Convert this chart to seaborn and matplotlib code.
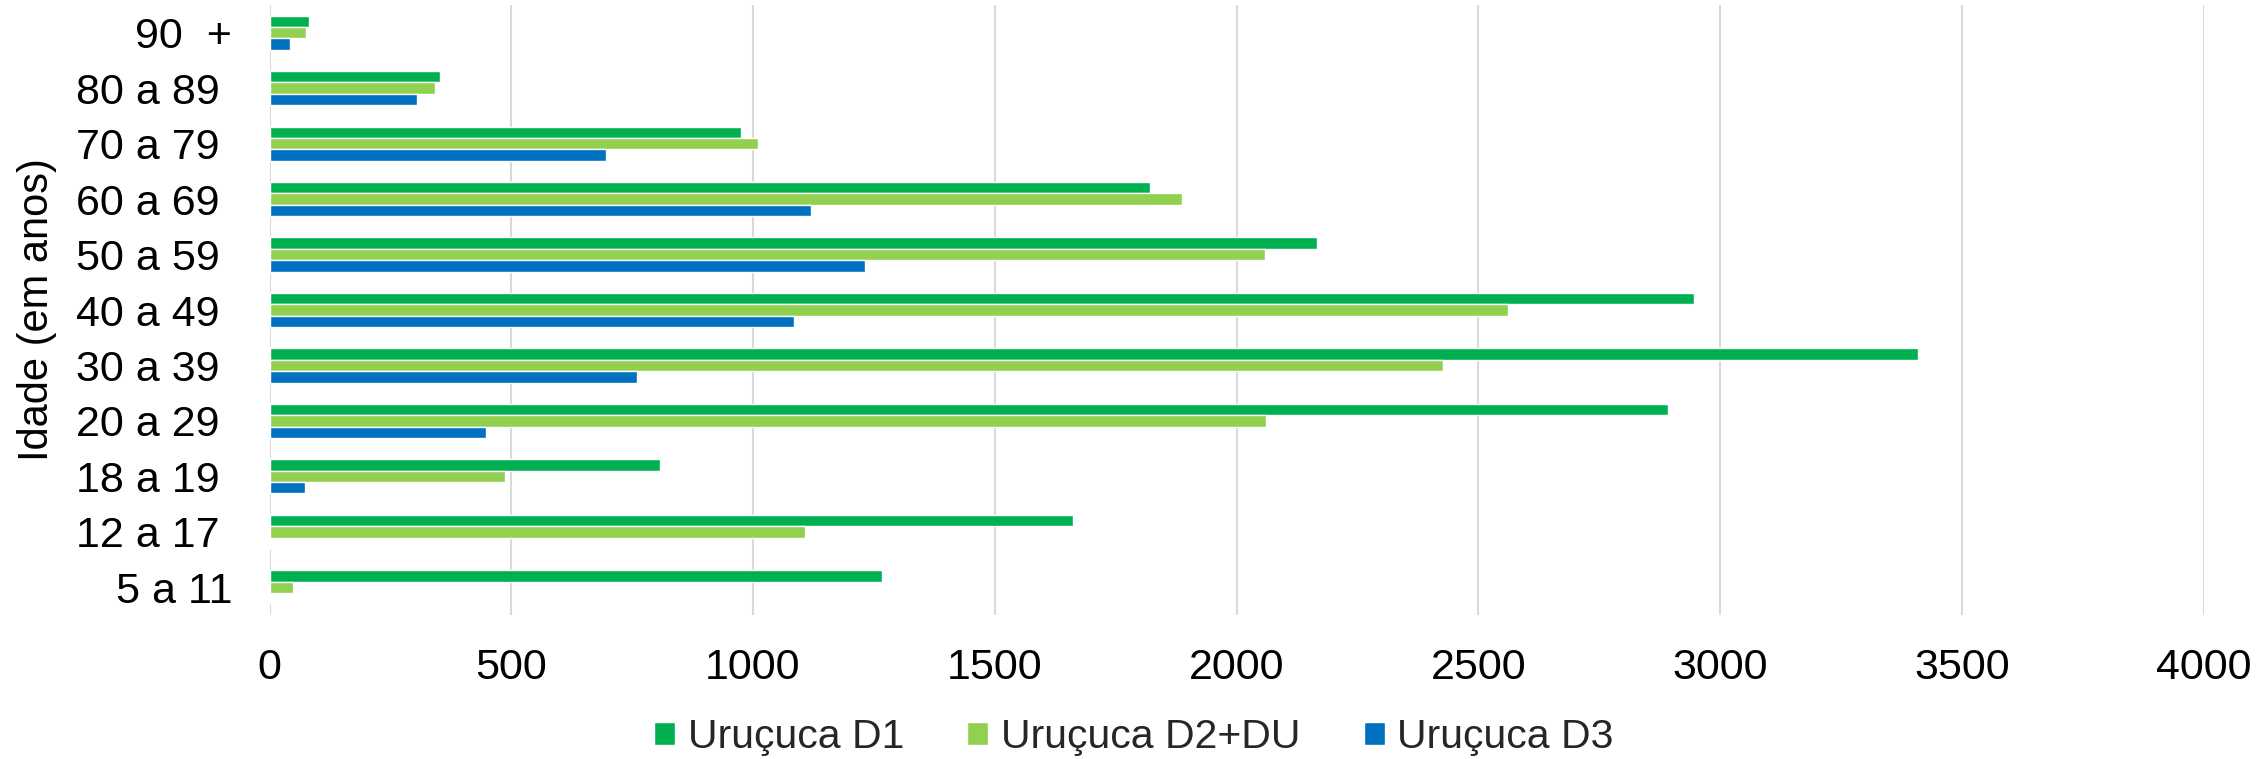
import matplotlib
matplotlib.use("Agg")
import matplotlib.pyplot as plt
import seaborn as sns
import pandas as pd

# Age groups, top to bottom
faixas = ["90  +", "80 a 89 ", "70 a 79 ", "60 a 69 ", "50 a 59 ", "40 a 49 ",
          "30 a 39 ", "20 a 29 ", "18 a 19 ", "12 a 17 ", "5 a 11"]

# Doses applied per age group
d1 = [82, 352, 975, 1821, 2166, 2946, 3410, 2893, 807, 1662, 1267]
d2_du = [75, 343, 1011, 1887, 2059, 2562, 2427, 2062, 488, 1108, 49]
d3 = [42, 306, 695, 1119, 1231, 1085, 760, 448, 74, 0, 0]

series = ["Uruçuca D1", "Uruçuca D2+DU", "Uruçuca D3"]
cores = ["#00B050", "#92D050", "#0070C0"]
x_ticks = [0, 500, 1000, 1500, 2000, 2500, 3000, 3500, 4000]

df = pd.DataFrame({
    "faixa": faixas * 3,
    "doses": d1 + d2_du + d3,
    "serie": [series[0]] * len(faixas) + [series[1]] * len(faixas) + [series[2]] * len(faixas),
})

sns.set_theme(style="white")
plt.rcParams["font.family"] = ["Liberation Sans", "DejaVu Sans"]

W, H = 2259, 759
fig = plt.figure(figsize=(W / 100, H / 100), dpi=100)
ax = fig.add_axes([269.5 / W, 1 - 615 / H, (2203.5 - 269.5) / W, 610 / H])

sns.barplot(data=df, x="doses", y="faixa", hue="serie", order=faixas,
            hue_order=series, palette=cores, orient="h", width=0.615,
            saturation=1, errorbar=None, ax=ax, zorder=3)

ax.set_xlim(0, 4000)
ax.set_ylim(len(faixas) - 0.5, -0.5)
ax.set_xticks(x_ticks)
ax.set_xticklabels([str(v) for v in x_ticks])
ax.grid(axis="x", color="#D9D9D9", linewidth=1.5, zorder=0)
ax.grid(axis="y", visible=False)
ax.set_axisbelow(True)
for s in ax.spines.values():
    s.set_visible(False)

ax.tick_params(axis="both", length=0, labelsize=31, labelcolor="black")
ax.tick_params(axis="y", pad=27)
ax.tick_params(axis="x", pad=24)
ax.set_xlabel("")
ax.set_ylabel("")

fig.text(37 / W, 1 - 310 / H, "Idade (em anos)", rotation=90, fontsize=30,
         ha="center", va="center", color="black")

handles, labels = ax.get_legend_handles_labels()
if ax.get_legend() is not None:
    ax.get_legend().remove()
fig.legend(handles, labels, loc="center", bbox_to_anchor=(1134 / W, 1 - 737 / H),
           ncol=3, frameon=False, fontsize=29.5, handlelength=0.51,
           handleheight=0.51, handletextpad=0.31, columnspacing=1.54,
           borderpad=0, borderaxespad=0)

fig.savefig("out.png", dpi=100)
